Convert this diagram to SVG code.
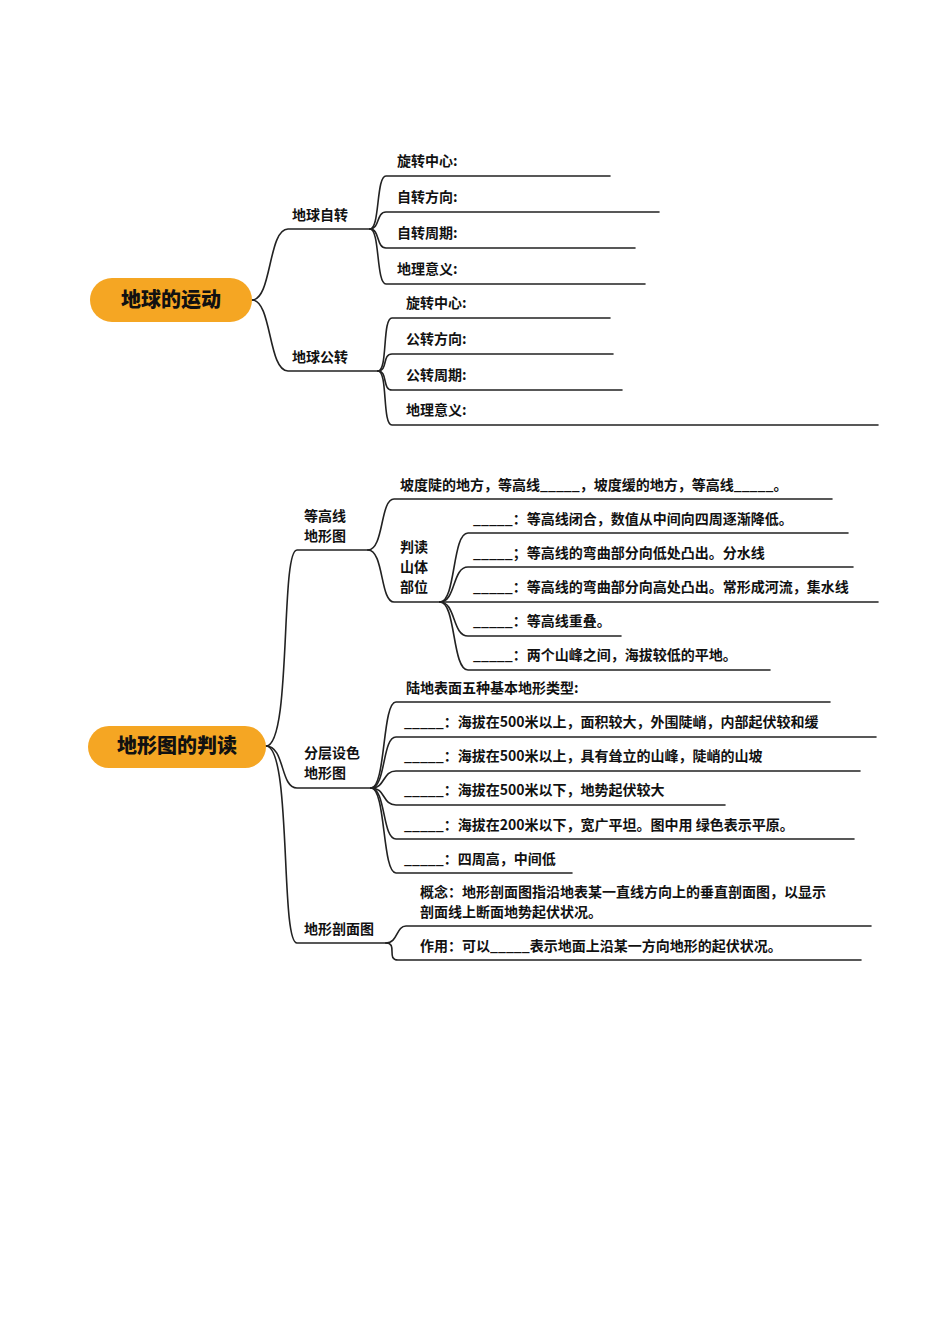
<svg xmlns="http://www.w3.org/2000/svg" width="950" height="1344" viewBox="0 0 950 1344">
<style>
.t{font-family:"Noto Sans CJK SC","Liberation Sans",sans-serif;font-size:14px;font-weight:600;fill:#111}
.r{font-family:"Noto Sans CJK SC","Liberation Sans",sans-serif;font-size:20px;font-weight:900;fill:#111}
.c path{fill:none;stroke:#222;stroke-width:1.6;stroke-linecap:round}
</style>
<rect width="950" height="1344" fill="#fff"/>
<g class="c" id="connectors">
<path d="M252,300 C272,300 268,229 288,229 L370,229"/>
<path d="M252,300 C272,300 268,371 288,371 L378,371"/>
<path d="M370,229 C380,229 376,176 386,176 L610,176"/>
<path d="M370,229 C380,229 376,212 386,212 L659,212"/>
<path d="M370,229 C380,229 376,248 386,248 L635,248"/>
<path d="M370,229 C380,229 376,284 386,284 L645,284"/>
<path d="M378,371 C388,371 382,318 392,318 L610,318"/>
<path d="M378,371 C388,371 382,354 392,354 L613,354"/>
<path d="M378,371 C388,371 382,390 392,390 L622,390"/>
<path d="M378,371 C388,371 382,425 392,425 L878,425"/>
<path d="M266,746 C292,746 280,550 297,550 L368,550"/>
<path d="M266,746 C285,746 280,788 297,788 L371,788"/>
<path d="M266,746 C292,746 280,943 297,943 L386,943"/>
<path d="M368,550 C384,550 380,499 394,499 L832,499"/>
<path d="M368,550 C384,550 380,602 394,602 L440,602"/>
<path d="M440,602 C456,602 452,533 468,533 L848,533"/>
<path d="M440,602 C456,602 452,567 468,567 L853,567"/>
<path d="M440,602 C456,602 452,602 468,602 L878,602"/>
<path d="M440,602 C456,602 452,636 468,636 L621,636"/>
<path d="M440,602 C456,602 452,670 468,670 L770,670"/>
<path d="M371,788 C386,788 382,702 396,702 L830,702"/>
<path d="M371,788 C386,788 382,737 396,737 L876,737"/>
<path d="M371,788 C386,788 382,771 396,771 L860,771"/>
<path d="M371,788 C386,788 382,805 396,805 L725,805"/>
<path d="M371,788 C386,788 382,839 396,839 L854,839"/>
<path d="M371,788 C386,788 382,873 396,873 L572,873"/>
<path d="M386,943 C398,943 396,926 406,926 L871,926"/>
<path d="M386,943 C398,943 386,960 398,960 L861,960"/>
</g>
<g id="root1"><rect x="90" y="278" width="162" height="44" rx="22" fill="#F5A623"/><text class="r" x="171" y="307" text-anchor="middle">地球的运动</text></g>
<g id="root2"><rect x="88" y="726" width="178" height="42" rx="21" fill="#F5A623"/><text class="r" x="177" y="753" text-anchor="middle">地形图的判读</text></g>
<g id="n1"><text class="t" x="292" y="220">地球自转</text></g>
<g id="n2"><text class="t" x="292" y="362">地球公转</text></g>
<g id="n1a"><text class="t" x="397" y="166">旋转中心:</text></g>
<g id="n1b"><text class="t" x="397" y="202">自转方向:</text></g>
<g id="n1c"><text class="t" x="397" y="238">自转周期:</text></g>
<g id="n1d"><text class="t" x="397" y="274">地理意义:</text></g>
<g id="n2a"><text class="t" x="406" y="308">旋转中心:</text></g>
<g id="n2b"><text class="t" x="406" y="344">公转方向:</text></g>
<g id="n2c"><text class="t" x="406" y="380">公转周期:</text></g>
<g id="n2d"><text class="t" x="406" y="415">地理意义:</text></g>
<g id="m1"><text class="t" x="304" y="521">等高线</text><text class="t" x="304" y="541">地形图</text></g>
<g id="m1a"><text class="t" x="400" y="490">坡度陡的地方，等高线_____，坡度缓的地方，等高线_____。</text></g>
<g id="m1b"><text class="t" x="400" y="552">判读</text><text class="t" x="400" y="572">山体</text><text class="t" x="400" y="592">部位</text></g>
<g id="m1b1"><text class="t" x="473" y="524">_____：等高线闭合，数值从中间向四周逐渐降低。</text></g>
<g id="m1b2"><text class="t" x="473" y="558">_____；等高线的弯曲部分向低处凸出。分水线</text></g>
<g id="m1b3"><text class="t" x="473" y="592">_____：等高线的弯曲部分向高处凸出。常形成河流，集水线</text></g>
<g id="m1b4"><text class="t" x="473" y="626">_____：等高线重叠。</text></g>
<g id="m1b5"><text class="t" x="473" y="660">_____：两个山峰之间，海拔较低的平地。</text></g>
<g id="m2"><text class="t" x="304" y="758">分层设色</text><text class="t" x="304" y="778">地形图</text></g>
<g id="m2a"><text class="t" x="406" y="693">陆地表面五种基本地形类型:</text></g>
<g id="m2b"><text class="t" x="404" y="727">_____：海拔在500米以上，面积较大，外围陡峭，内部起伏较和缓</text></g>
<g id="m2c"><text class="t" x="404" y="761">_____：海拔在500米以上，具有耸立的山峰，陡峭的山坡</text></g>
<g id="m2d"><text class="t" x="404" y="795">_____：海拔在500米以下，地势起伏较大</text></g>
<g id="m2e"><text class="t" x="404" y="830">_____：海拔在200米以下，宽广平坦。图中用 绿色表示平原。</text></g>
<g id="m2f"><text class="t" x="404" y="864">_____：四周高，中间低</text></g>
<g id="m3"><text class="t" x="304" y="934">地形剖面图</text></g>
<g id="m3a"><text class="t" x="420" y="897">概念：地形剖面图指沿地表某一直线方向上的垂直剖面图，以显示</text><text class="t" x="420" y="917">剖面线上断面地势起伏状况。</text></g>
<g id="m3b"><text class="t" x="420" y="951">作用：可以_____表示地面上沿某一方向地形的起伏状况。</text></g>
</svg>
